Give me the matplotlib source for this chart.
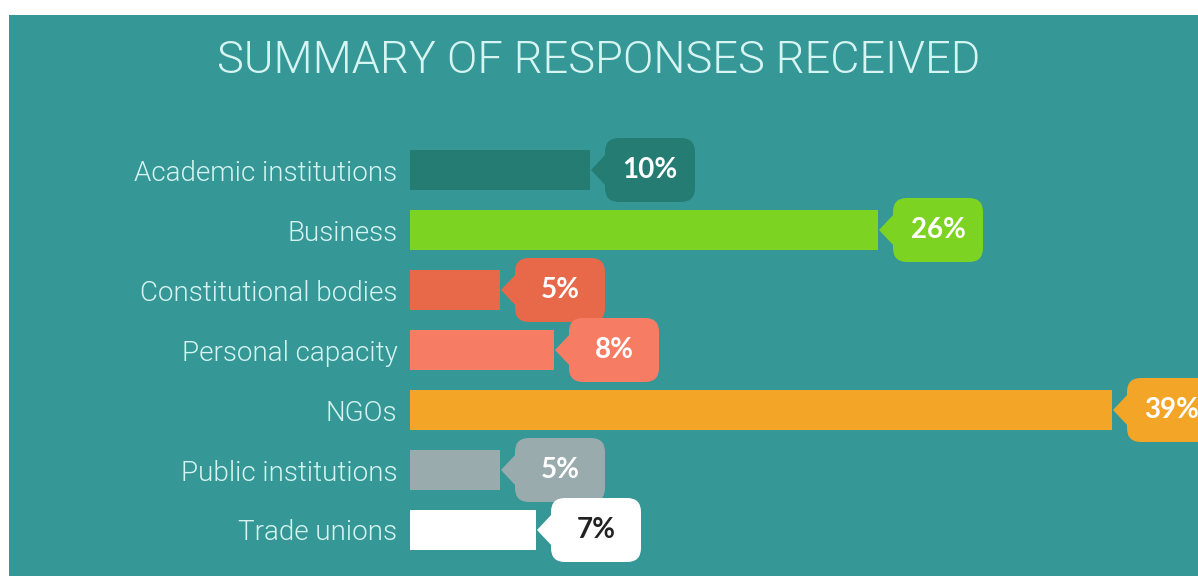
import matplotlib.pyplot as plt
import matplotlib.transforms as mtransforms
from matplotlib.patches import FancyBboxPatch, Polygon

# datos
categorias = ["Academic institutions", "Business", "Constitutional bodies",
              "Personal capacity", "NGOs", "Public institutions", "Trade unions"]
valores = [10, 26, 5, 8, 39, 5, 7]
etiquetas = ["10%", "26%", "5%", "8%", "39%", "5%", "7%"]
colores = ["#247c73", "#7dd321", "#e8684a", "#f67d63", "#f3a527", "#9aabae", "#ffffff"]
color_texto = ["white", "white", "white", "white", "white", "white", "#222222"]

W, H = 1198, 576
fondo = "#359896"
claro = "#d6f4f1"

fig = plt.figure(figsize=(W / 100, H / 100), dpi=100, facecolor="white")

# fondo verde azulado (borde blanco arriba e izquierda)
bg = fig.add_axes([9 / W, 0, 1 - 9 / W, (H - 15) / H])
bg.set_facecolor(fondo)
bg.set_xticks([])
bg.set_yticks([])
for s in bg.spines.values():
    s.set_visible(False)

fig.text(599 / W, 1 - 61 / H, "SUMMARY OF RESPONSES RECEIVED", ha="center", va="center",
         color=claro, fontsize=32.5, family="Roboto", fontweight=300)

# ejes de las barras: 60 px por categoria, 18 px por punto porcentual
x0, top = 410, 140
ax = fig.add_axes([x0 / W, 1 - (top + 420) / H, (W - x0) / W, 420 / H])
ax.set_xlim(0, (W - x0) / 18.0)
ax.set_ylim(6.5, -0.5)
ax.patch.set_alpha(0)
for s in ax.spines.values():
    s.set_visible(False)

y = list(range(len(categorias)))
ax.barh(y, valores, height=0.67, color=colores)
ax.set_xticks([])
ax.set_yticks(y)
ax.set_yticklabels(categorias, fontsize=20, color=claro, family="Roboto", fontweight=300)
ax.tick_params(axis="y", length=0, pad=9)

fig.canvas.draw()
for i, v in enumerate(valores):
    px, py = ax.transData.transform((v, i))
    t = mtransforms.Affine2D().translate(px, py)
    bw, bh, gap = 90, 64, 15
    caja = FancyBboxPatch((gap, -bh / 2), bw, bh, boxstyle="round,pad=0,rounding_size=14",
                          facecolor=colores[i], edgecolor="none", transform=t, clip_on=False)
    punta = Polygon([(1, 0), (gap + 2, 17), (gap + 2, -17)], closed=True,
                    facecolor=colores[i], edgecolor="none", transform=t, clip_on=False)
    fig.add_artist(caja)
    fig.add_artist(punta)
    fig.text((px + gap + bw / 2) / W, py / H, etiquetas[i], ha="center", va="center",
             fontsize=20, family="Lato", fontweight="bold", color=color_texto[i])

fig.savefig("out.png", dpi=100, facecolor="white")
